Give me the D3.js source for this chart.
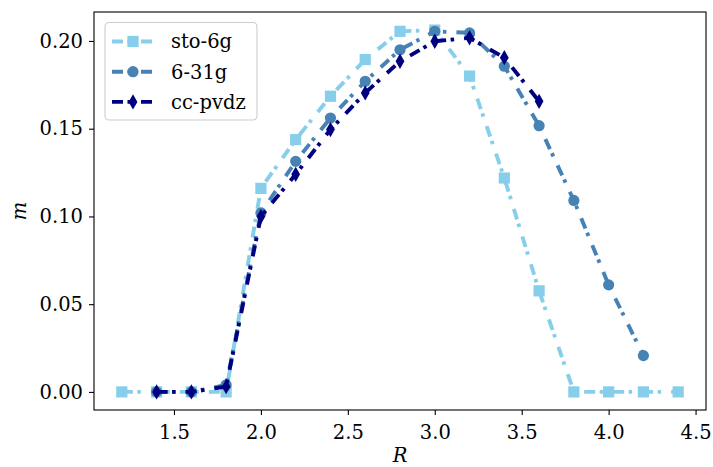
<!DOCTYPE html>
<html>
<head>
<meta charset="utf-8">
<script src="https://cdn.jsdelivr.net/npm/d3@7"></script>
<style>
  html, body { margin: 0; padding: 0; background: #fff; }
  svg { display: block; }
  text { font-family: "DejaVu Serif", serif; fill: #000; }
</style>
</head>
<body>
<svg id="chart" width="713" height="467"></svg>
<script>
// ---- data ----
const seriesNames = ["sto-6g", "6-31g", "cc-pvdz"];
const R_sto = [1.2, 1.4, 1.6, 1.8, 2.0, 2.2, 2.4, 2.6, 2.8, 3.0, 3.2, 3.4, 3.6, 3.8, 4.0, 4.2, 4.4];
const m_sto = [0, 0, 0, 0, 0.116, 0.1438, 0.1685, 0.1894, 0.2055, 0.2062, 0.180, 0.1219, 0.0576, 0, 0, 0, 0];
const R_631 = [1.4, 1.6, 1.8, 2.0, 2.2, 2.4, 2.6, 2.8, 3.0, 3.2, 3.4, 3.6, 3.8, 4.0, 4.2];
const m_631 = [0, 0, 0.004, 0.102, 0.1314, 0.1561, 0.177, 0.195, 0.2055, 0.2046, 0.1856, 0.1517, 0.1091, 0.061, 0.0207];
const R_cc = [1.4, 1.6, 1.8, 2.0, 2.2, 2.4, 2.6, 2.8, 3.0, 3.2, 3.4, 3.6];
const m_cc = [0, 0, 0.003, 0.100, 0.124, 0.1495, 0.1704, 0.1884, 0.1998, 0.2018, 0.1905, 0.1656];
const xTicks = [1.5, 2.0, 2.5, 3.0, 3.5, 4.0, 4.5];
const yTicks = [0.00, 0.05, 0.10, 0.15, 0.20];
const xLabel = "R";
const yLabel = "m";

// ---- layout ----
const svg = d3.select("#chart");
const L = 94, R = 706, T = 12, B = 410;
const fs = 19.5;

const allR = R_sto.concat(R_631, R_cc);
const allM = m_sto.concat(m_631, m_cc);
const xr = d3.extent(allR), yr = d3.extent(allM);
const xm = (xr[1] - xr[0]) * 0.05, ym = (yr[1] - yr[0]) * 0.05;
const x = d3.scaleLinear().domain([xr[0] - xm, xr[1] + xm]).range([L, R]);
const y = d3.scaleLinear().domain([yr[0] - ym, yr[1] + ym]).range([B, T]);

const series = [
  { name: seriesNames[0], R: R_sto, m: m_sto, color: "#87CEEB", marker: "square" },
  { name: seriesNames[1], R: R_631, m: m_631, color: "#4682B4", marker: "circle" },
  { name: seriesNames[2], R: R_cc,  m: m_cc,  color: "#000080", marker: "thindiamond" }
];
const dash = "11,4.5,3.5,10";
const lw = 3.9;

function drawMarker(g, kind, cx, cy, color) {
  if (kind === "square") {
    g.append("rect").attr("x", cx - 5.6).attr("y", cy - 5.6)
      .attr("width", 11.2).attr("height", 11.2).attr("fill", color);
  } else if (kind === "circle") {
    g.append("circle").attr("cx", cx).attr("cy", cy).attr("r", 5.6).attr("fill", color);
  } else {
    const w = 4.4, h = 7.7;
    g.append("path")
      .attr("d", `M${cx},${cy - h}L${cx + w},${cy}L${cx},${cy + h}L${cx - w},${cy}Z`)
      .attr("fill", color);
  }
}

// axes
const xAxis = svg.append("g").attr("transform", `translate(0,${B})`)
  .call(d3.axisBottom(x).tickValues(xTicks).tickFormat(d3.format(".1f")).tickSize(5).tickPadding(5));
const yAxis = svg.append("g").attr("transform", `translate(${L},0)`)
  .call(d3.axisLeft(y).tickValues(yTicks).tickFormat(d3.format(".2f")).tickSize(5).tickPadding(6));
[xAxis, yAxis].forEach(a => {
  a.attr("font-family", "DejaVu Serif");
  a.select(".domain").remove();
  a.selectAll(".tick line").attr("stroke", "#000").attr("stroke-width", 1.1);
  a.selectAll(".tick text").attr("font-family", "DejaVu Serif").attr("font-size", fs).attr("fill", "#000");
});
xAxis.selectAll(".tick text").attr("dy", "0.95em");

// lines and markers
const plot = svg.append("g");
series.forEach(s => {
  const pts = s.R.map((r, i) => [r, s.m[i]]);
  const line = d3.line().x(d => x(d[0])).y(d => y(d[1]));
  plot.append("path").attr("d", line(pts))
    .attr("fill", "none").attr("stroke", s.color).attr("stroke-width", lw)
    .attr("stroke-dasharray", dash).attr("stroke-linejoin", "round");
  const mg = plot.append("g");
  pts.forEach(p => drawMarker(mg, s.marker, x(p[0]), y(p[1]), s.color));
});

// frame
svg.append("rect").attr("x", L).attr("y", T).attr("width", R - L).attr("height", B - T)
  .attr("fill", "none").attr("stroke", "#000").attr("stroke-width", 1.1);

// axis labels
svg.append("text").attr("x", (L + R) / 2).attr("y", 462)
  .attr("text-anchor", "middle").attr("font-style", "italic").attr("font-size", fs).text(xLabel);
svg.append("text").attr("transform", `translate(26,${(T + B) / 2}) rotate(-90)`)
  .attr("text-anchor", "middle").attr("font-style", "italic").attr("font-size", fs).text(yLabel);

// legend
const lg = svg.append("g");
lg.append("rect").attr("x", 105).attr("y", 22.5).attr("width", 152).attr("height", 97.5)
  .attr("rx", 4).attr("fill", "#fff").attr("fill-opacity", 0.8)
  .attr("stroke", "#cccccc").attr("stroke-width", 1.1);
series.forEach((s, i) => {
  const cy = 41.5 + i * 30.2;
  lg.append("path").attr("d", `M112,${cy}H154`)
    .attr("stroke", s.color).attr("stroke-width", lw).attr("stroke-dasharray", dash).attr("fill", "none");
  drawMarker(lg, s.marker, 133, cy, s.color);
  lg.append("text").attr("x", 171).attr("y", cy).attr("dy", "0.35em")
    .attr("font-size", fs).text(s.name);
});
</script>
</body>
</html>
